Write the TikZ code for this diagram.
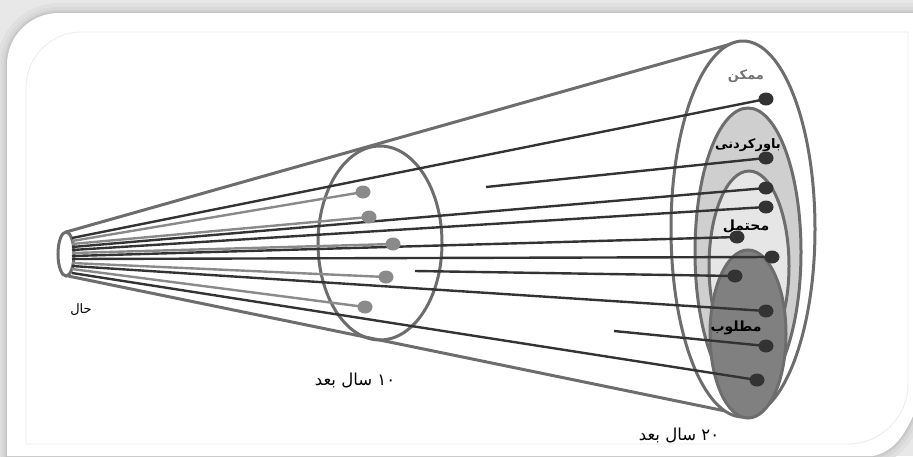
\documentclass[tikz,border=0pt]{standalone}
\usepackage{fontspec}
\newfontfamily\arabicfont[Script=Arabic]{DejaVu Sans}
\TeXXeTstate=1
\definecolor{rim}{HTML}{6D6D6D}
\definecolor{darkln}{HTML}{333333}
\definecolor{grayln}{HTML}{8A8A8A}
\definecolor{fillB}{HTML}{CFCFCF}
\definecolor{fillC}{HTML}{E6E6E6}
\definecolor{fillD}{HTML}{808080}
\tikzset{
  rimline/.style={draw=rim,line width=3pt},
  darkray/.style={draw=darkln,line width=2.4pt},
  grayray/.style={draw=grayln,line width=2.4pt},
  darkdot/.style={fill=darkln,draw=none},
  graydot/.style={fill=grayln,draw=none},
  fadlabel/.style={font=\arabicfont\bfseries\fontsize{14}{16}\selectfont,inner sep=0pt},
  plainlabel/.style={font=\arabicfont\fontsize{16.5}{19}\selectfont,inner sep=0pt},
}
\begin{document}
\begin{tikzpicture}[x=1pt,y=-1pt]
\useasboundingbox (0,0) rectangle (913,456);
% background frame
\fill[black!9] (0,0) rectangle (913,456);
\def\panel{(7,456) -- (7,65) .. controls (7,36) and (30,13) .. (59,13) -- (913,13) -- (913,416) .. controls (903,438) and (892,452) .. (873,456) -- cycle}
\draw[black!12,line width=20pt] \panel;
\draw[black!15,line width=12pt] \panel;
\draw[black!19,line width=6pt] \panel;
\draw[black!23,line width=2.5pt] \panel;
\fill[white] \panel;
\draw[black!8,line width=0.8pt] (26,444) -- (26,87) .. controls (26,57) and (51,32) .. (81,32) -- (908,32) -- (908,384) .. controls (908,417) and (881,444) .. (848,444) -- cycle;
% cone
\coordinate (ctl) at (66,232);
\coordinate (cbl) at (68,276);
\coordinate (ctr) at (738,42);
\coordinate (cbr) at (745,415);
\draw[rimline] (ctl) -- (ctr);
\draw[rimline] (cbl) -- (cbr);
% end ellipses
\draw[rimline,fill=white] (743,229) ellipse[x radius=72,y radius=188];
\draw[rimline,fill=fillB] (748,252) ellipse[x radius=53,y radius=144];
\draw[rimline,fill=fillC] (749,266) ellipse[x radius=40,y radius=95];
\draw[rimline,fill=fillD] (748,334) ellipse[x radius=38,y radius=84];
% start and mid ellipses
\draw[rimline,fill=white] (66,254) ellipse[x radius=8,y radius=22];
\draw[rimline] (380,243) ellipse[x radius=62,y radius=97];
% start points
\foreach \n/\yy in {s1/238,s2/241,s3/244,s4/247,s5/250,s6/253,s7/256,s8/259,s9/263,s10/266,s11/269,s12/273}
  \coordinate (\n) at (72,\yy);
% mid dots
\foreach \n/\xx/\yy in {ga/363/192,gb/369/217,gc/393/244,gd/386/277,ge/365/307}
  \coordinate (\n) at (\xx,\yy);
% end dots
\foreach \n/\xx/\yy in {d1/766/99,d2/766/158,d3/766/188,d4/766/207,d5/737/237,d6/772/257,d7/735/276,d8/766/311,d9/766/346,d10/757/380}
  \coordinate (\n) at (\xx,\yy);
\coordinate (f2) at (486,187);
\coordinate (f7) at (415,271);
\coordinate (f9) at (614,331);
% rays
\draw[darkray] (s1) -- (d1);
\draw[grayray] (s2) -- (ga);
\draw[grayray] (s3) -- (gb);
\draw[darkray] (s4) -- (d3);
\draw[darkray] (s5) -- (d4);
\draw[grayray] (s6) -- (gc);
\draw[darkray] (s7) -- (d5);
\draw[darkray] (s8) -- (d6);
\draw[grayray] (s9) -- (gd);
\draw[darkray] (s10) -- (d8);
\draw[grayray] (s11) -- (ge);
\draw[darkray] (s12) -- (d10);
\draw[darkray] (f2) -- (d2);
\draw[darkray] (f7) -- (d7);
\draw[darkray] (f9) -- (d9);
% dots
\foreach \n in {ga,gb,gc,gd,ge}
  \fill[graydot] (\n) ellipse[x radius=7.5,y radius=6.5];
\foreach \n in {d1,d2,d3,d4,d5,d6,d7,d8,d9,d10}
  \fill[darkdot] (\n) ellipse[x radius=7.5,y radius=6.5];
% labels
\node[fadlabel,text=black!55,font=\arabicfont\bfseries\fontsize{13}{15}\selectfont] (lpos) at (746,76) {\beginR ممکن\endR};
\node[fadlabel,font=\arabicfont\bfseries\fontsize{13}{15}\selectfont] (lplau) at (748,145) {\beginR باورکردنی\endR};
\node[fadlabel] (lprob) at (746,226) {\beginR محتمل\endR};
\node[fadlabel] (lpref) at (736,328) {\beginR مطلوب\endR};
\node[plainlabel,font=\arabicfont\fontsize{13}{15}\selectfont] (lnow) at (81,310) {\beginR حال\endR};
\node[plainlabel] (l10) at (355,380) {\beginR\beginL ۱۰\endL{} سال بعد\endR};
\node[plainlabel] (l20) at (679,435) {\beginR\beginL ۲۰\endL{} سال بعد\endR};
\end{tikzpicture}
\end{document}
